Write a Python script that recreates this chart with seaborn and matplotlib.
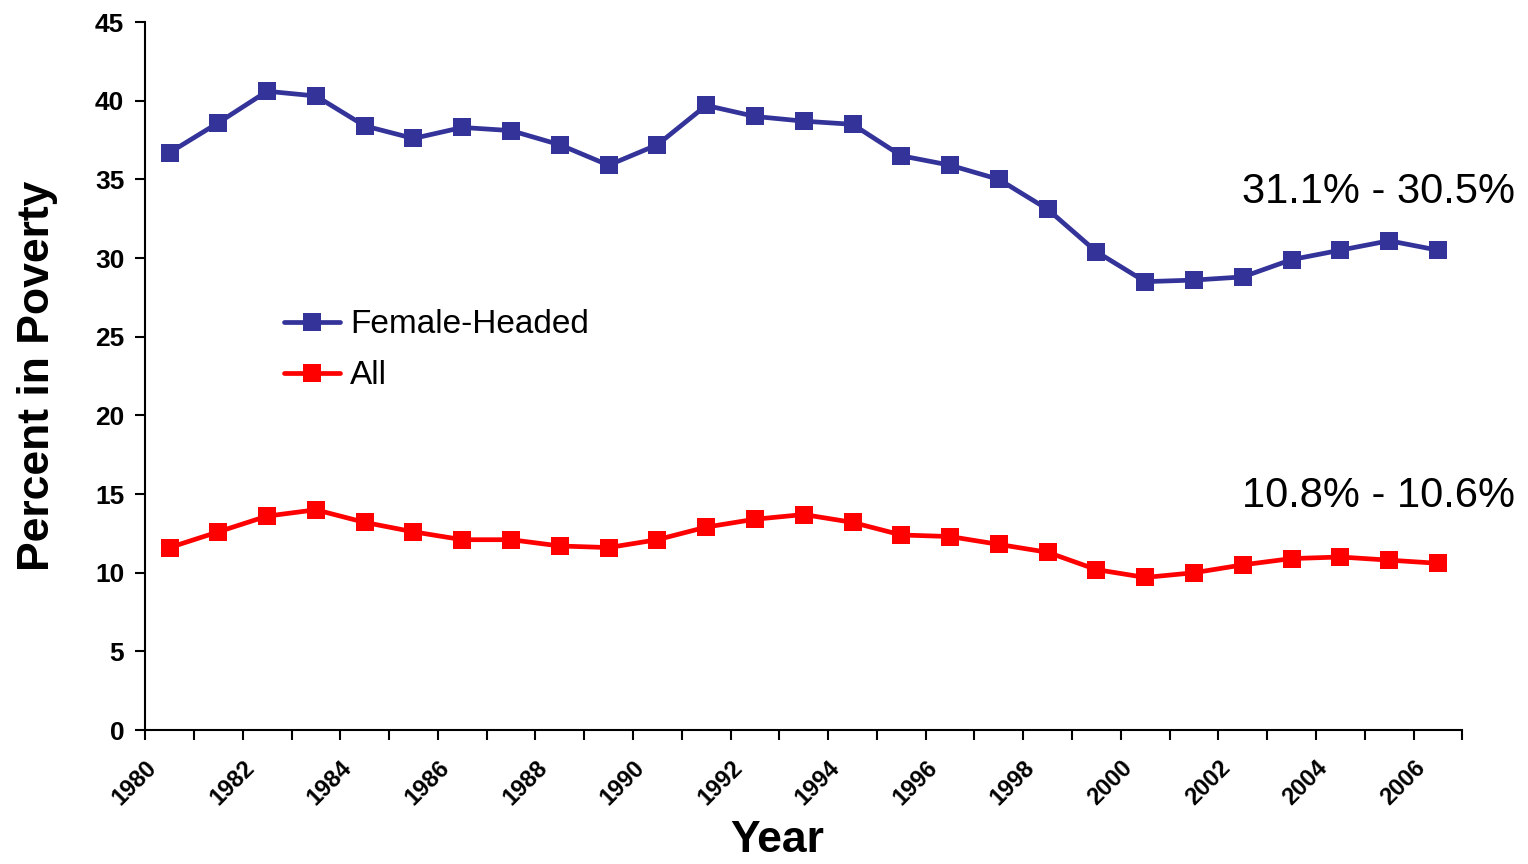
import numpy as np
import pandas as pd
import matplotlib
matplotlib.use("Agg")
import matplotlib.pyplot as plt
import seaborn as sns

# Données
years = list(range(1980, 2007))
female_headed = [36.7, 38.6, 40.6, 40.3, 38.4, 37.6, 38.3, 38.1, 37.2, 35.9,
                 37.2, 39.7, 39.0, 38.7, 38.5, 36.5, 35.9, 35.0, 33.1, 30.4,
                 28.5, 28.6, 28.8, 29.9, 30.5, 31.1, 30.5]
all_families = [11.6, 12.6, 13.6, 14.0, 13.2, 12.6, 12.1, 12.1, 11.7, 11.6,
                12.1, 12.9, 13.4, 13.7, 13.2, 12.4, 12.3, 11.8, 11.3, 10.2,
                9.7, 10.0, 10.5, 10.9, 11.0, 10.8, 10.6]
series_names = ["Female-Headed", "All"]
annotations = ["31.1% - 30.5%", "10.8% - 10.6%"]

df = pd.DataFrame({
    "Year": years * 2,
    "Percent": female_headed + all_families,
    "Series": [series_names[0]] * len(years) + [series_names[1]] * len(years),
})

sns.set_style("white")
plt.rcParams["font.family"] = ["Liberation Sans", "DejaVu Sans"]
plt.rcParams["text.color"] = "black"
plt.rcParams["axes.labelcolor"] = "black"
plt.rcParams["xtick.color"] = "black"
plt.rcParams["ytick.color"] = "black"

fig = plt.figure(figsize=(15.28, 8.64), dpi=100)
ax = fig.add_axes([0.095, 0.155, 0.862, 0.8195])

sns.lineplot(data=df, x="Year", y="Percent", hue="Series", style="Series",
             palette={"Female-Headed": "#333399", "All": "#FF0000"},
             markers={"Female-Headed": "s", "All": "s"}, dashes=False,
             linewidth=3.4, markersize=13, markeredgewidth=0, ax=ax)

ax.set_xlim(years[0] - 0.5, years[-1] + 0.5)
ax.set_ylim(0, 45)
ax.set_yticks(np.arange(0, 46, 5))
ticks = np.arange(years[0] - 0.5, years[-1] + 1, 1)
ax.set_xticks(ticks)
ax.set_xticklabels([str(int(t + 0.5)) if int(t + 0.5) % 2 == 0 else "" for t in ticks],
                   rotation=45, ha="right", rotation_mode="anchor",
                   fontsize=17, fontweight="bold")
for lab in ax.get_yticklabels():
    lab.set_fontsize(19)
    lab.set_fontweight("bold")

ax.tick_params(axis="both", direction="out", length=7, width=1.5,
               bottom=True, left=True)
ax.tick_params(axis="x", pad=12)
ax.tick_params(axis="y", pad=8)
for s in ["top", "right"]:
    ax.spines[s].set_visible(False)
for s in ["left", "bottom"]:
    ax.spines[s].set_color("black")
    ax.spines[s].set_linewidth(1.5)

ax.set_xlabel("Year", fontsize=32, fontweight="bold")
ax.xaxis.set_label_coords(0.48, -0.127)
ax.set_ylabel("Percent in Poverty", fontsize=32, fontweight="bold")
ax.yaxis.set_label_coords(-0.066, 0.5)

ax.text(1.04, female_headed[-1] + 2.4, annotations[0], fontsize=30,
        ha="right", va="bottom", transform=ax.get_yaxis_transform())
ax.text(1.04, all_families[-1] + 3.0, annotations[1], fontsize=30,
        ha="right", va="bottom", transform=ax.get_yaxis_transform())

leg = ax.legend(loc="upper left", bbox_to_anchor=(0.095, 0.613), frameon=False,
                fontsize=24, handlelength=1.7, labelspacing=0.6, handletextpad=0.3,
                borderaxespad=0)
for h in leg.legend_handles:
    h.set_markersize(13)

fig.savefig("out.png", dpi=100)
